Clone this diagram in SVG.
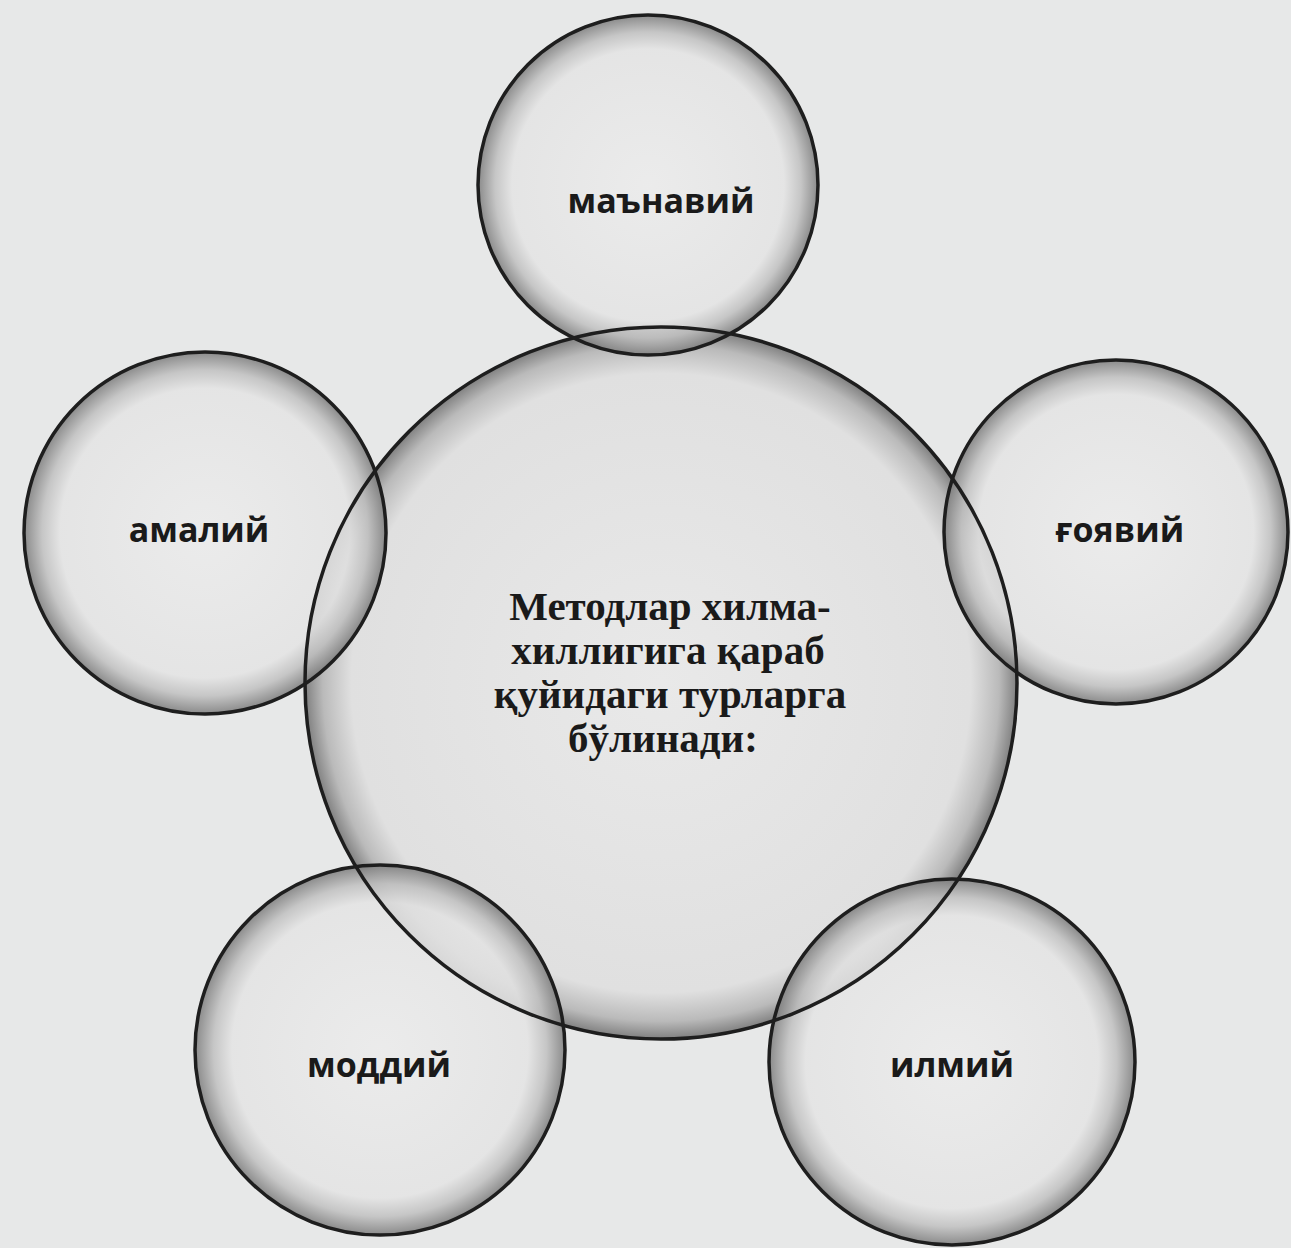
<svg xmlns="http://www.w3.org/2000/svg" width="1291" height="1248" viewBox="0 0 1291 1248">
<defs>
<radialGradient id="g" cx="50%" cy="50%" r="50%">
<stop offset="0" stop-color="#ececec"/>
<stop offset="0.8" stop-color="#e4e4e4"/>
<stop offset="0.9" stop-color="#c0c0c0"/>
<stop offset="1" stop-color="#7a7a7a"/>
</radialGradient>
<radialGradient id="gc" cx="50%" cy="50%" r="50%">
<stop offset="0" stop-color="#e9e9e9"/>
<stop offset="0.87" stop-color="#e0e0e0"/>
<stop offset="0.95" stop-color="#bababa"/>
<stop offset="1" stop-color="#808080"/>
</radialGradient>
</defs>
<style>
.fill{fill:url(#g);fill-opacity:0.85}
.fc{fill:url(#gc)}
.ring{fill:none;stroke:#1e1e1e;stroke-width:3.5}
.lbl{font-family:"Open Sans","DejaVu Sans",sans-serif;font-weight:bold;font-size:34px;fill:#1a1a1a;text-anchor:middle}
.ctr{font-family:"Liberation Serif","DejaVu Serif",serif;font-weight:bold;font-size:41px;fill:#1a1a1a;text-anchor:middle}
</style>
<rect width="1291" height="1248" fill="#e7e8e8"/>
<g id="center">
<circle class="fc" cx="661" cy="683" r="356"/>
</g>
<g id="n-manaviy">
<circle class="fill" cx="648" cy="185" r="170"/>
</g>
<g id="n-amaliy">
<circle class="fill" cx="205" cy="533" r="181"/>
</g>
<g id="n-goyaviy">
<circle class="fill" cx="1116" cy="532" r="172"/>
</g>
<g id="n-moddiy">
<circle class="fill" cx="380" cy="1050" r="185"/>
</g>
<g id="n-ilmiy">
<circle class="fill" cx="952" cy="1062" r="183"/>
</g>
<g id="connectors">
<circle class="ring" cx="661" cy="683" r="356"/>
<circle class="ring" cx="648" cy="185" r="170"/>
<circle class="ring" cx="205" cy="533" r="181"/>
<circle class="ring" cx="1116" cy="532" r="172"/>
<circle class="ring" cx="380" cy="1050" r="185"/>
<circle class="ring" cx="952" cy="1062" r="183"/>
</g>
<g id="labels">
<text class="lbl" x="661" y="213">маънавий</text>
<text class="lbl" x="199" y="542">амалий</text>
<text class="lbl" x="1120" y="542">ғоявий</text>
<text class="lbl" x="379" y="1077">моддий</text>
<text class="lbl" x="952" y="1077">илмий</text>
<text class="ctr" x="670" y="620">Методлар хилма-</text>
<text class="ctr" x="668" y="664">хиллигига қараб</text>
<text class="ctr" x="670" y="708">қуйидаги турларга</text>
<text class="ctr" x="663" y="752">бўлинади:</text>
</g>
</svg>
